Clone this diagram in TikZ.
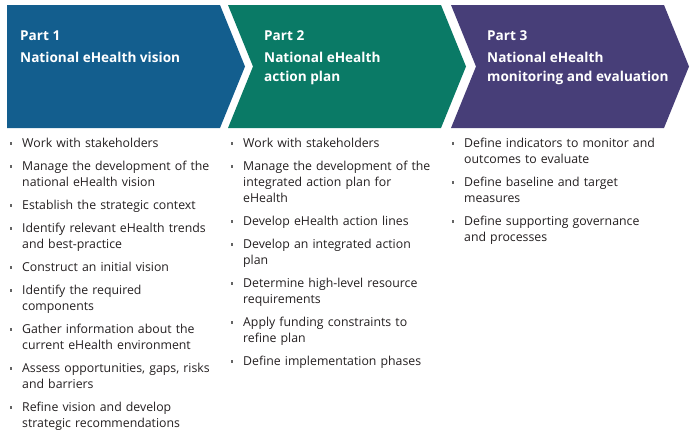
\documentclass[tikz,border=0pt]{standalone}
\usepackage{fontspec}
\setmainfont{Open Sans}
\usepackage{tikz}

\definecolor{bleuPart}{RGB}{19,94,142}
\definecolor{vertPart}{RGB}{10,122,102}
\definecolor{violetPart}{RGB}{71,62,120}
\definecolor{texteGris}{RGB}{35,31,32}
\definecolor{puceGris}{RGB}{100,100,100}

\tikzstyle{titre} = [
    anchor = north west,
    align = left,
    inner sep = 0pt,
    text = white,
    font = \bfseries\fontsize{13.6}{19}\selectfont,
]
\tikzstyle{liste} = [
    anchor = north west,
    inner sep = 0pt,
    text width = 225pt,
    text = texteGris,
    font = \raggedright\fontsize{12.3}{16}\selectfont,
]

\newcommand{\Tache}[1]{\par\noindent\hangindent=12pt\makebox[12pt][l]{\textcolor{puceGris}{\rule[2.7pt]{2.2pt}{2.2pt}}}#1\par\vspace{7pt}}

\begin{document}
\begin{tikzpicture} [x = 1pt, y = -1pt]
    \useasboundingbox (0, 0) rectangle (696, 437);

    % les trois chevrons
    \foreach \x/\couleur/\creux in {7/bleuPart/0, 228/vertPart/25, 451/violetPart/25}
        \fill[\couleur] (\x, 5) -- ++(213, 0) -- ++(25, 61.5) -- ++(-25, 61.5) -- ++(-213, 0) -- ++(\creux, -61.5) -- cycle;

    \node (Part1) [titre] at (20, 30.5) {Part 1\\[3.3pt]National eHealth vision};
    \node (Part2) [titre] at (264, 30.5) {Part 2\\[3.3pt]National eHealth\\action plan};
    \node (Part3) [titre] at (487, 30.5) {Part 3\\[3.3pt]National eHealth\\monitoring and evaluation};

    \node (Liste1) [liste] at (10, 131) {
        \Tache{Work with stakeholders}
        \Tache{Manage the development of the\newline national eHealth vision}
        \Tache{Establish the strategic context}
        \Tache{Identify relevant eHealth trends\newline and best-practice}
        \Tache{Construct an initial vision}
        \Tache{Identify the required\newline components}
        \Tache{Gather information about the\newline current eHealth environment}
        \Tache{Assess opportunities, gaps, risks\newline and barriers}
        \Tache{Refine vision and develop\newline strategic recommendations}
    };

    \node (Liste2) [liste] at (231, 131) {
        \Tache{Work with stakeholders}
        \Tache{Manage the development of the\newline integrated action plan for\newline eHealth}
        \Tache{Develop eHealth action lines}
        \Tache{Develop an integrated action\newline plan}
        \Tache{Determine high-level resource\newline requirements}
        \Tache{Apply funding constraints to\newline refine plan}
        \Tache{Define implementation phases}
    };

    \node (Liste3) [liste] at (452, 131) {
        \Tache{Define indicators to monitor and\newline outcomes to evaluate}
        \Tache{Define baseline and target\newline measures}
        \Tache{Define supporting governance\newline and processes}
    };
\end{tikzpicture}
\end{document}
